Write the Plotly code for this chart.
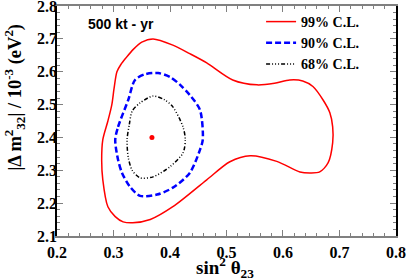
import plotly.graph_objects as go

# 99% C.L. contour
cl99_x = [0.281, 0.290, 0.297, 0.301, 0.306, 0.313, 0.322, 0.335, 0.350, 0.370, 0.405, 0.435, 0.465,
          0.511, 0.554, 0.585, 0.612, 0.635, 0.653, 0.671, 0.683, 0.688, 0.688, 0.680, 0.665, 0.648,
          0.630, 0.589, 0.542, 0.506, 0.465, 0.405, 0.365, 0.334, 0.317, 0.303, 0.290, 0.281, 0.279, 0.281]
cl99_y = [2.393, 2.45, 2.50, 2.55, 2.60, 2.622, 2.642, 2.668, 2.690, 2.700, 2.681, 2.655, 2.627,
          2.575, 2.560, 2.565, 2.575, 2.572, 2.555, 2.514, 2.475, 2.432, 2.384, 2.323, 2.295, 2.292,
          2.295, 2.327, 2.344, 2.326, 2.271, 2.189, 2.150, 2.140, 2.143, 2.159, 2.189, 2.271, 2.330, 2.393]

# 90% C.L. contour
cl90_x = [0.303, 0.308, 0.326, 0.338, 0.355, 0.379, 0.400, 0.418, 0.435, 0.453, 0.458, 0.453, 0.435,
          0.405, 0.377, 0.347, 0.329, 0.315, 0.308, 0.303]
cl90_y = [2.393, 2.432, 2.514, 2.575, 2.592, 2.596, 2.584, 2.560, 2.529, 2.484, 2.393, 2.362, 2.292,
          2.247, 2.226, 2.222, 2.250, 2.292, 2.332, 2.393]

# 68% C.L. contour
cl68_x = [0.324, 0.328, 0.333, 0.347, 0.370, 0.390, 0.405, 0.423, 0.427, 0.423, 0.400, 0.370, 0.347,
          0.333, 0.326, 0.324]
cl68_y = [2.393, 2.440, 2.480, 2.505, 2.526, 2.515, 2.493, 2.432, 2.393, 2.353, 2.311, 2.280, 2.277,
          2.300, 2.340, 2.393]

best_x = [0.368]
best_y = [2.400]

x_ticks = [0.2, 0.3, 0.4, 0.5, 0.6, 0.7, 0.8]
y_ticks = [2.1, 2.2, 2.3, 2.4, 2.5, 2.6, 2.7, 2.8]

serif = "Liberation Serif"

fig = go.Figure()
fig.add_trace(go.Scatter(x=cl99_x, y=cl99_y, mode="lines", name="<b>99% C.L.</b>",
                         line=dict(color="#ff0000", width=1.5, shape="spline", smoothing=0.8)))
fig.add_trace(go.Scatter(x=cl90_x, y=cl90_y, mode="lines", name="<b>90% C.L.</b>",
                         line=dict(color="#0000ff", width=2.5, dash="6px,3px", shape="spline", smoothing=0.8)))
fig.add_trace(go.Scatter(x=cl68_x, y=cl68_y, mode="lines", name="<b>68% C.L.</b>",
                         line=dict(color="#000000", width=1.5, dash="4px,2px,1px,2px,1px,2px,1px,2px",
                                   shape="spline", smoothing=0.8)))
fig.add_trace(go.Scatter(x=best_x, y=best_y, mode="markers", showlegend=False,
                         marker=dict(color="#ff0000", size=5)))

axis_common = dict(
    showgrid=False, zeroline=False, showline=True, linewidth=1.5, automargin=False,
    mirror="allticks", ticks="inside", ticklen=6, tickwidth=1, tickcolor="#808080",
    ticklabeloverflow="allow",
    tickfont=dict(family=serif, size=16, color="#000000"),
)

fig.update_layout(
    width=407, height=280,
    margin=dict(l=57, r=11, t=6, b=44),
    paper_bgcolor="white", plot_bgcolor="white",
    showlegend=True,
    legend=dict(x=0.602, y=1.0, xanchor="left", yanchor="top", bgcolor="rgba(0,0,0,0)",
                font=dict(family=serif, size=14, color="#000000"), itemwidth=30,
                tracegroupgap=0),
    xaxis=dict(range=[0.1999, 0.8001], tickvals=x_ticks, ticktext=["<b>%.1f</b>" % v for v in x_ticks],
               linecolor="#808080", ticklabelstandoff=1,
               minor=dict(dtick=0.02, ticks="inside", ticklen=3, tickcolor="#808080"),
               **axis_common),
    yaxis=dict(range=[2.0999, 2.8001], tickvals=y_ticks, ticktext=["<b>%.1f</b>" % v for v in y_ticks],
               linecolor="#000000", ticklabelstandoff=-5,
               minor=dict(dtick=0.02, ticks="inside", ticklen=3, tickcolor="#808080"),
               **axis_common),
    annotations=[
        dict(text="<b>500 kt - yr</b>", x=0.085, y=0.922, xref="paper", yref="paper",
             xanchor="left", yanchor="middle", showarrow=False,
             font=dict(family="Liberation Sans", size=14, color="#000000")),
        dict(text="<b>sin<sup>2</sup> θ<sub>23</sub></b>", x=0.496, y=-0.135, xref="paper", yref="paper",
             xanchor="center", yanchor="middle", showarrow=False,
             font=dict(family=serif, size=19, color="#000000")),
        dict(text="<b>|Δ m<sup>2</sup><sub>32</sub>| / 10<sup>-3</sup> (eV<sup>2</sup>)</b>",
             x=-0.124, y=0.605, xref="paper", yref="paper", textangle=-90,
             xanchor="center", yanchor="middle", showarrow=False,
             font=dict(family=serif, size=18.5, color="#000000")),
    ],
)

fig.write_html("out.html", post_script="document.body.style.margin='0px';",
               config={"displayModeBar": False})
